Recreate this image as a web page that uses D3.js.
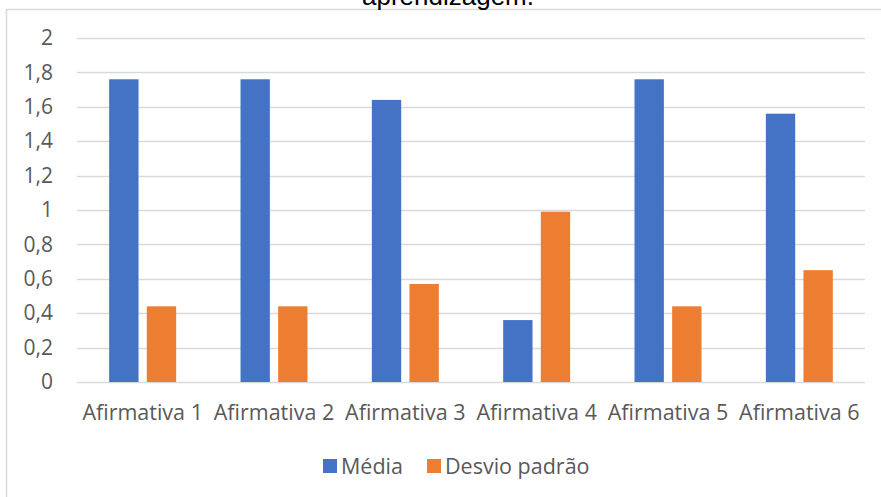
<!DOCTYPE html>
<html>
<head>
  <meta charset="utf-8">
  <title>Média e Desvio padrão por afirmativa</title>
  <style>
    body { margin: 0; background: #fff; }
    #chart text { font-family: "Open Sans", "Noto Sans", sans-serif; fill: #595959; }
    #chart .title { font-family: "Liberation Sans", Arial, sans-serif; fill: #000; }
  </style>
  <script src="https://d3js.org/d3.v7.min.js"></script>
</head>
<body>
  <div id="chart"></div>

  <script>
    // chart data
    var categories = ["Afirmativa 1", "Afirmativa 2", "Afirmativa 3", "Afirmativa 4", "Afirmativa 5", "Afirmativa 6"];
    var seriesNames = ["Média", "Desvio padrão"];
    var media = [1.76, 1.76, 1.64, 0.36, 1.76, 1.56];
    var desvio = [0.44, 0.44, 0.57, 0.99, 0.44, 0.65];
    var yTicks = [0, 0.2, 0.4, 0.6, 0.8, 1, 1.2, 1.4, 1.6, 1.8, 2];
    var colors = ["#4472C4", "#ED7D31"];

    var width = 881, height = 497;
    var margin = { top: 38, right: 16, bottom: 115, left: 77 };
    var plotW = width - margin.left - margin.right;
    var plotH = height - margin.top - margin.bottom;

    var svg = d3.select("#chart")
      .append("svg")
      .attr("width", width)
      .attr("height", height);

    // chart area border (runs off the right and bottom edge)
    svg.append("rect")
      .attr("x", 6.5)
      .attr("y", 9.5)
      .attr("width", 900)
      .attr("height", 520)
      .attr("fill", "none")
      .attr("stroke", "#d9d9d9")
      .attr("stroke-width", 1.5);

    // title, mostly cut off at the top
    svg.append("text")
      .attr("class", "title")
      .attr("x", 448)
      .attr("y", 5)
      .attr("text-anchor", "middle")
      .style("font-size", "26px")
      .text("aprendizagem.");

    var g = svg.append("g")
      .attr("transform", "translate(" + margin.left + "," + margin.top + ")");

    var x0 = d3.scaleBand()
      .domain(categories)
      .range([0, plotW])
      .paddingInner(0.49)
      .paddingOuter(0.245);

    var x1 = d3.scaleBand()
      .domain(seriesNames)
      .range([0, x0.bandwidth()])
      .paddingInner(0.22);

    var y = d3.scaleLinear()
      .domain([0, 2])
      .range([plotH, 0]);

    // gridlines
    g.selectAll("line.grid")
      .data(yTicks)
      .enter()
      .append("line")
      .attr("class", "grid")
      .attr("x1", 0)
      .attr("x2", plotW)
      .attr("y1", function(d) { return Math.round(y(d)) + 0.5; })
      .attr("y2", function(d) { return Math.round(y(d)) + 0.5; })
      .attr("stroke", "#d9d9d9")
      .attr("stroke-width", 1.5);

    // y axis labels
    var yAxis = d3.axisLeft(y)
      .tickValues(yTicks)
      .tickSize(0)
      .tickPadding(24)
      .tickFormat(function(d) { return String(d).replace(".", ","); });

    g.append("g")
      .attr("class", "y-axis")
      .call(yAxis)
      .call(function(s) { s.select(".domain").remove(); })
      .selectAll("text")
      .style("font-size", "21px");

    // bars
    var rows = categories.map(function(c, i) {
      return { cat: c, values: [media[i], desvio[i]] };
    });

    var groups = g.selectAll("g.cat")
      .data(rows)
      .enter()
      .append("g")
      .attr("class", "cat")
      .attr("transform", function(d) { return "translate(" + x0(d.cat) + ",0)"; });

    groups.selectAll("rect")
      .data(function(d) {
        return d.values.map(function(v, j) { return { name: seriesNames[j], value: v, color: colors[j] }; });
      })
      .enter()
      .append("rect")
      .attr("x", function(d) { return x1(d.name); })
      .attr("y", function(d) { return y(d.value); })
      .attr("width", x1.bandwidth())
      .attr("height", function(d) { return plotH - y(d.value); })
      .attr("fill", function(d) { return d.color; });

    // x axis labels
    var xAxis = d3.axisBottom(x0)
      .tickSize(0)
      .tickPadding(23);

    g.append("g")
      .attr("class", "x-axis")
      .attr("transform", "translate(0," + plotH + ")")
      .call(xAxis)
      .call(function(s) { s.select(".domain").remove(); })
      .selectAll("text")
      .style("font-size", "21.5px");

    // legend
    var legend = svg.append("g")
      .attr("transform", "translate(323,466)");

    var items = [
      { name: seriesNames[0], color: colors[0], x: 0 },
      { name: seriesNames[1], color: colors[1], x: 104 }
    ];

    var li = legend.selectAll("g")
      .data(items)
      .enter()
      .append("g")
      .attr("transform", function(d) { return "translate(" + d.x + ",0)"; });

    li.append("rect")
      .attr("x", 0)
      .attr("y", -7)
      .attr("width", 14)
      .attr("height", 14)
      .attr("fill", function(d) { return d.color; });

    li.append("text")
      .attr("x", 18)
      .attr("y", 0)
      .attr("dy", "0.35em")
      .style("font-size", "21.5px")
      .text(function(d) { return d.name; });
  </script>
</body>
</html>
